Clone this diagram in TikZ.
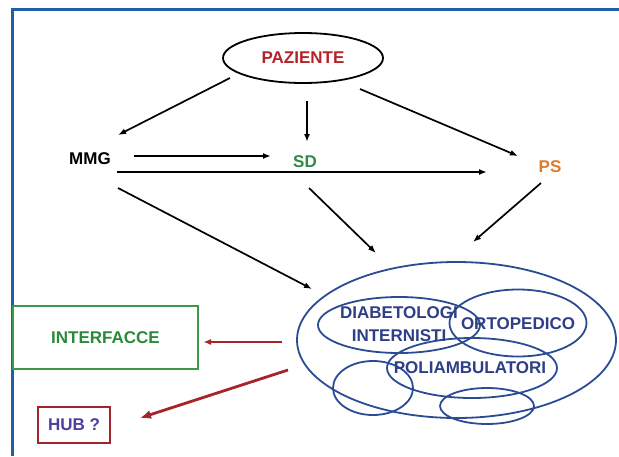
\documentclass[tikz,border=0pt]{standalone}
\usepackage{fontspec}
\setmainfont{Liberation Sans}
\usetikzlibrary{shapes.geometric,arrows.meta}
\definecolor{framecol}{HTML}{1F5FA8}
\definecolor{pazred}{HTML}{B5232A}
\definecolor{sdgreen}{HTML}{2E8B45}
\definecolor{psorange}{HTML}{E07B2A}
\definecolor{intgreen}{HTML}{2A8A3A}
\definecolor{intbox}{HTML}{3A9A48}
\definecolor{hubblue}{HTML}{4B3FA0}
\definecolor{hubred}{HTML}{A0242B}
\definecolor{ellblue}{HTML}{2B4C93}
\definecolor{elltext}{HTML}{2E3F86}
\definecolor{arrred}{HTML}{A8242A}
\begin{document}
\begin{tikzpicture}[x=1pt,y=-1pt,
  lbl/.style={font=\bfseries\fontsize{17}{23}\selectfont, inner sep=0pt},
  arr/.style={-{Latex[length=8pt,width=6pt]}, line width=1.7pt, black},
  redthin/.style={-{Latex[length=8pt,width=6pt]}, line width=1.7pt, arrred},
  redthick/.style={-{Latex[length=11pt,width=9pt]}, line width=2.8pt, arrred},
  ell/.style={ellipse, draw=ellblue, line width=1.8pt, inner sep=0pt}]
\useasboundingbox (0,0) rectangle (619,456);
\fill[white] (0,0) rectangle (619,456);
% frame
\draw[framecol, line width=2.4pt] (12.5,456) -- (12.5,9.5) -- (619,9.5);

% top nodes
\node[ellipse, draw=black, line width=1.8pt, minimum width=160pt, minimum height=50pt, inner sep=0pt,
      lbl, text=pazred] (paz) at (303,58) {PAZIENTE};
\node[lbl, text=black] (mmg) at (90,159) {MMG};
\node[lbl, text=sdgreen] (sd) at (305,162) {SD};
\node[lbl, text=psorange] (ps) at (550,167) {PS};

% ellipses
\node[ell, minimum width=319pt, minimum height=156pt] (outer) at (456.5,340) {};
\node[ell, minimum width=162pt, minimum height=56pt] (diab) at (399,325) {};
\node[ell, minimum width=137pt, minimum height=67pt] (orto) at (518,323) {};
\node[ell, minimum width=170pt, minimum height=60pt] (poli) at (472,368) {};
\node[ell, minimum width=80pt, minimum height=54pt] (smallA) at (373,388) {};
\node[ell, minimum width=94pt, minimum height=36pt] (smallB) at (487,406) {};
\node[lbl, text=elltext, align=center] (diabt) at (399,324.5) {DIABETOLOGI\\INTERNISTI};
\node[lbl, text=elltext] (ortot) at (518,324) {ORTOPEDICO};
\node[lbl, text=elltext] (polit) at (470,368) {POLIAMBULATORI};

% left boxes
\node[draw=intbox, line width=2pt, minimum width=185pt, minimum height=63pt, inner sep=0pt,
      lbl, text=intgreen] (inter) at (105.5,337.5) {INTERFACCE};
\node[draw=hubred, line width=2.4pt, minimum width=72pt, minimum height=36pt, inner sep=0pt,
      lbl, text=hubblue] (hub) at (74,425) {HUB ?};

% connector end points
\coordinate (a1s) at (230,78);  \coordinate (a1e) at (118,135);
\coordinate (a2s) at (307,101); \coordinate (a2e) at (307,142);
\coordinate (a3s) at (360,89);  \coordinate (a3e) at (518,156);
\coordinate (a4s) at (134,156); \coordinate (a4e) at (271,156);
\coordinate (a5s) at (117,172); \coordinate (a5e) at (487,172);
\coordinate (a6s) at (118,188); \coordinate (a6e) at (312,289);
\coordinate (a7s) at (309,188); \coordinate (a7e) at (376,253);
\coordinate (a8s) at (541,183); \coordinate (a8e) at (473,242);
\coordinate (r1s) at (282,342); \coordinate (r1e) at (203,342);
\coordinate (r2s) at (288,370); \coordinate (r2e) at (140,418);

\draw[arr] (a1s) -- (a1e);
\draw[arr] (a2s) -- (a2e);
\draw[arr] (a3s) -- (a3e);
\draw[arr] (a4s) -- (a4e);
\draw[arr] (a5s) -- (a5e);
\draw[arr] (a6s) -- (a6e);
\draw[arr] (a7s) -- (a7e);
\draw[arr] (a8s) -- (a8e);
\draw[redthin] (r1s) -- (r1e);
\draw[redthick] (r2s) -- (r2e);
\end{tikzpicture}
\end{document}
